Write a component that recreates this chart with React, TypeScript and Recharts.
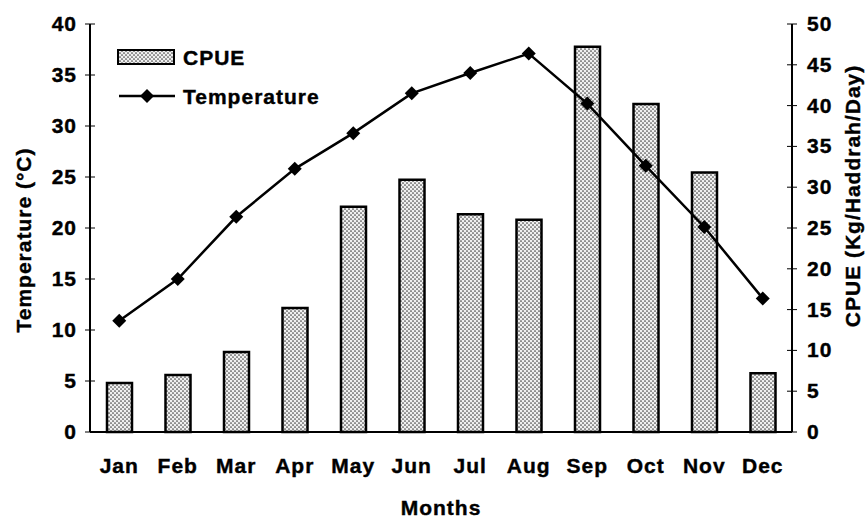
import React from 'react';
import { ComposedChart, Bar, Line, XAxis, YAxis, Legend } from 'recharts';

const months = ['Jan', 'Feb', 'Mar', 'Apr', 'May', 'Jun', 'Jul', 'Aug', 'Sep', 'Oct', 'Nov', 'Dec'];
const cpue = [6.0, 7.0, 9.8, 15.2, 27.6, 30.9, 26.7, 26.0, 47.2, 40.2, 31.8, 7.2];
const temperature = [10.9, 15.0, 21.1, 25.8, 29.3, 33.2, 35.2, 37.1, 32.2, 26.1, 20.1, 13.1];
const tempTicks = [0, 5, 10, 15, 20, 25, 30, 35, 40];
const cpueTicks = [0, 5, 10, 15, 20, 25, 30, 35, 40, 45, 50];

const data = months.map((m, i) => ({ month: m, cpue: cpue[i], temp: temperature[i] }));

const FONT = '"Liberation Sans", Arial, sans-serif';
const FS = 21;
const LS = 1;

// slight stroke to get the heavy scanned look of the original lettering
const txt = {
  fontFamily: FONT,
  fontWeight: 'bold' as const,
  fontSize: FS,
  letterSpacing: LS,
  fill: '#000',
  stroke: '#000',
  strokeWidth: 0.4,
};

const Diamond = (props: any) => {
  const { cx, cy } = props;
  if (cx == null || cy == null) return null;
  const s = 7;
  return <polygon points={`${cx},${cy - s} ${cx + s},${cy} ${cx},${cy + s} ${cx - s},${cy}`} fill="#000" />;
};

// ticks that cross the axis line (outer part is the normal tickLine)
const LeftTick = (props: any) => {
  const { x, y, payload } = props;
  const ax = x + 13;
  return (
    <g>
      <line x1={ax} y1={y} x2={ax + 5} y2={y} stroke="#000" strokeWidth={1} />
      <text x={x} y={y} dy={7} textAnchor="end" {...txt}>
        {payload.value}
      </text>
    </g>
  );
};

const RightTick = (props: any) => {
  const { x, y, payload } = props;
  const ax = x - 15;
  return (
    <g>
      <line x1={ax - 5} y1={y} x2={ax} y2={y} stroke="#000" strokeWidth={1} />
      <text x={x} y={y} dy={7} textAnchor="start" {...txt}>
        {payload.value}
      </text>
    </g>
  );
};

const renderLegend = () => (
  <svg width={260} height={70}>
    <rect x={3} y={6} width={56} height={14} fill="url(#stipple)" stroke="#000" strokeWidth={2} />
    <text x={68} y={21} {...txt}>CPUE</text>
    <line x1={4} y1={52} x2={60} y2={52} stroke="#000" strokeWidth={2.5} />
    <polygon points="32,45 39,52 32,59 25,52" fill="#000" />
    <text x={68} y={60} {...txt}>Temperature</text>
  </svg>
);

const App = () => {
  return (
    <div style={{ position: 'absolute', left: 0, top: 0, background: '#fff' }}>
      <svg width={0} height={0} style={{ position: 'absolute' }}>
        <defs>
          <pattern id="stipple" width={4} height={4} patternUnits="userSpaceOnUse">
            <rect width={4} height={4} fill="#f0f0f0" />
            <circle cx={1} cy={1} r={0.85} fill="#444" />
            <circle cx={3} cy={3} r={0.85} fill="#444" />
          </pattern>
        </defs>
      </svg>
      <ComposedChart width={867} height={518} data={data} margin={{ top: 24, right: 0, left: 0, bottom: 16 }}>
        <XAxis
          dataKey="month"
          height={70}
          axisLine={{ stroke: '#000', strokeWidth: 2 }}
          tickLine={false}
          tickSize={0}
          tickMargin={26}
          tick={txt}
          interval={0}
          label={({ viewBox }: any) => (
            <text x={viewBox.x + viewBox.width / 2} y={viewBox.y + 83} textAnchor="middle" {...txt}>
              Months
            </text>
          )}
        />
        <YAxis
          yAxisId="temp"
          orientation="left"
          width={90}
          domain={[0, 40]}
          ticks={tempTicks}
          interval={0}
          axisLine={{ stroke: '#000', strokeWidth: 2 }}
          tickLine={{ stroke: '#000', strokeWidth: 1 }}
          tickSize={5}
          tickMargin={8}
          tick={<LeftTick />}
          label={({ viewBox }: any) => {
            const cx = 23;
            const cy = viewBox.y + viewBox.height / 2 + 12;
            return (
              <text x={cx} y={cy} transform={`rotate(-90 ${cx} ${cy})`} textAnchor="middle" dominantBaseline="central" {...txt}>
                Temperature (°C)
              </text>
            );
          }}
        />
        <YAxis
          yAxisId="cpue"
          orientation="right"
          width={75}
          domain={[0, 50]}
          ticks={cpueTicks}
          interval={0}
          axisLine={{ stroke: '#000', strokeWidth: 2 }}
          tickLine={{ stroke: '#000', strokeWidth: 1 }}
          tickSize={5}
          tickMargin={10}
          tick={<RightTick />}
          label={({ viewBox }: any) => {
            const cx = viewBox.x + 60;
            const cy = viewBox.y + viewBox.height / 2 - 32;
            return (
              <text x={cx} y={cy} transform={`rotate(-90 ${cx} ${cy})`} textAnchor="middle" dominantBaseline="central" {...txt}>
                CPUE (Kg/Haddrah/Day)
              </text>
            );
          }}
        />
        <Legend
          layout="vertical"
          align="center"
          verticalAlign="middle"
          content={renderLegend}
          wrapperStyle={{ position: 'absolute', left: 115, top: 44, width: 260, height: 70 }}
        />
        <Bar
          yAxisId="cpue"
          dataKey="cpue"
          name="CPUE"
          barSize={25}
          fill="url(#stipple)"
          stroke="#000"
          strokeWidth={2.5}
          isAnimationActive={false}
        />
        <Line
          yAxisId="temp"
          type="linear"
          dataKey="temp"
          name="Temperature"
          stroke="#000"
          strokeWidth={2.5}
          dot={<Diamond />}
          activeDot={false}
          isAnimationActive={false}
        />
      </ComposedChart>
    </div>
  );
};

export default App;
